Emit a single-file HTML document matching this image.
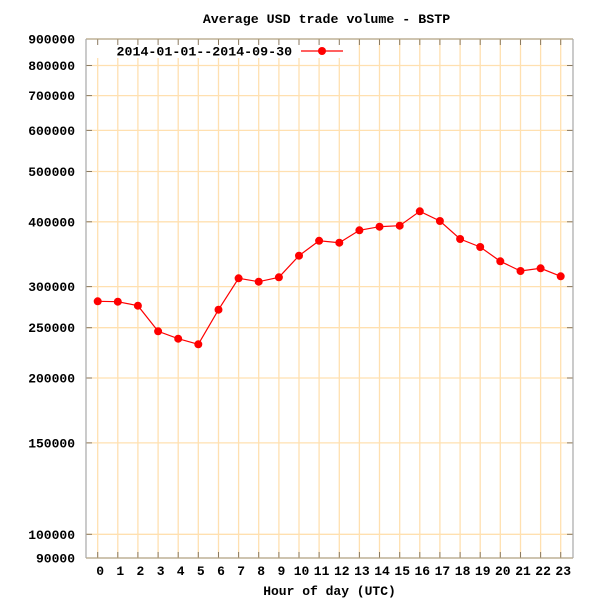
<!DOCTYPE html>
<html><head><meta charset="utf-8"><style>
html,body{margin:0;padding:0;background:#fff;}
svg{display:block;}
text{font-family:"Liberation Mono",monospace;font-weight:bold;fill:#000;}
</style></head><body>
<svg width="600" height="600" viewBox="0 0 600 600" xmlns="http://www.w3.org/2000/svg">
<rect width="600" height="600" fill="#fff"/>
<!-- vertical grid -->
<g stroke="#ffe0b0" stroke-width="1.3">
<line x1="97.7" y1="39" x2="97.7" y2="558"/>
<line x1="117.8" y1="39" x2="117.8" y2="558"/>
<line x1="137.9" y1="39" x2="137.9" y2="558"/>
<line x1="158.1" y1="39" x2="158.1" y2="558"/>
<line x1="178.2" y1="39" x2="178.2" y2="558"/>
<line x1="198.3" y1="39" x2="198.3" y2="558"/>
<line x1="218.5" y1="39" x2="218.5" y2="558"/>
<line x1="238.6" y1="39" x2="238.6" y2="558"/>
<line x1="258.7" y1="39" x2="258.7" y2="558"/>
<line x1="278.9" y1="39" x2="278.9" y2="558"/>
<line x1="299.0" y1="39" x2="299.0" y2="558"/>
<line x1="319.1" y1="39" x2="319.1" y2="558"/>
<line x1="339.3" y1="39" x2="339.3" y2="558"/>
<line x1="359.4" y1="39" x2="359.4" y2="558"/>
<line x1="379.5" y1="39" x2="379.5" y2="558"/>
<line x1="399.7" y1="39" x2="399.7" y2="558"/>
<line x1="419.8" y1="39" x2="419.8" y2="558"/>
<line x1="439.9" y1="39" x2="439.9" y2="558"/>
<line x1="460.1" y1="39" x2="460.1" y2="558"/>
<line x1="480.2" y1="39" x2="480.2" y2="558"/>
<line x1="500.3" y1="39" x2="500.3" y2="558"/>
<line x1="520.5" y1="39" x2="520.5" y2="558"/>
<line x1="540.6" y1="39" x2="540.6" y2="558"/>
<line x1="560.7" y1="39" x2="560.7" y2="558"/>
<!-- horizontal grid -->
<line x1="86" y1="65.5" x2="573" y2="65.5"/>
<line x1="86" y1="95.6" x2="573" y2="95.6"/>
<line x1="86" y1="130.4" x2="573" y2="130.4"/>
<line x1="86" y1="171.5" x2="573" y2="171.5"/>
<line x1="86" y1="221.8" x2="573" y2="221.8"/>
<line x1="86" y1="286.6" x2="573" y2="286.6"/>
<line x1="86" y1="327.7" x2="573" y2="327.7"/>
<line x1="86" y1="378.0" x2="573" y2="378.0"/>
<line x1="86" y1="442.9" x2="573" y2="442.9"/>
<line x1="86" y1="534.3" x2="573" y2="534.3"/>
</g>
<!-- legend box (opaque) -->
<rect x="87" y="40" width="262" height="18" fill="#fff"/>
<!-- ticks -->
<g stroke="#8b7a60" stroke-width="1">
<line x1="97.7" y1="558" x2="97.7" y2="552"/><line x1="97.7" y1="39" x2="97.7" y2="45"/>
<line x1="117.8" y1="558" x2="117.8" y2="552"/><line x1="117.8" y1="39" x2="117.8" y2="45"/>
<line x1="137.9" y1="558" x2="137.9" y2="552"/><line x1="137.9" y1="39" x2="137.9" y2="45"/>
<line x1="158.1" y1="558" x2="158.1" y2="552"/><line x1="158.1" y1="39" x2="158.1" y2="45"/>
<line x1="178.2" y1="558" x2="178.2" y2="552"/><line x1="178.2" y1="39" x2="178.2" y2="45"/>
<line x1="198.3" y1="558" x2="198.3" y2="552"/><line x1="198.3" y1="39" x2="198.3" y2="45"/>
<line x1="218.5" y1="558" x2="218.5" y2="552"/><line x1="218.5" y1="39" x2="218.5" y2="45"/>
<line x1="238.6" y1="558" x2="238.6" y2="552"/><line x1="238.6" y1="39" x2="238.6" y2="45"/>
<line x1="258.7" y1="558" x2="258.7" y2="552"/><line x1="258.7" y1="39" x2="258.7" y2="45"/>
<line x1="278.9" y1="558" x2="278.9" y2="552"/><line x1="278.9" y1="39" x2="278.9" y2="45"/>
<line x1="299.0" y1="558" x2="299.0" y2="552"/><line x1="299.0" y1="39" x2="299.0" y2="45"/>
<line x1="319.1" y1="558" x2="319.1" y2="552"/><line x1="319.1" y1="39" x2="319.1" y2="45"/>
<line x1="339.3" y1="558" x2="339.3" y2="552"/><line x1="339.3" y1="39" x2="339.3" y2="45"/>
<line x1="359.4" y1="558" x2="359.4" y2="552"/><line x1="359.4" y1="39" x2="359.4" y2="45"/>
<line x1="379.5" y1="558" x2="379.5" y2="552"/><line x1="379.5" y1="39" x2="379.5" y2="45"/>
<line x1="399.7" y1="558" x2="399.7" y2="552"/><line x1="399.7" y1="39" x2="399.7" y2="45"/>
<line x1="419.8" y1="558" x2="419.8" y2="552"/><line x1="419.8" y1="39" x2="419.8" y2="45"/>
<line x1="439.9" y1="558" x2="439.9" y2="552"/><line x1="439.9" y1="39" x2="439.9" y2="45"/>
<line x1="460.1" y1="558" x2="460.1" y2="552"/><line x1="460.1" y1="39" x2="460.1" y2="45"/>
<line x1="480.2" y1="558" x2="480.2" y2="552"/><line x1="480.2" y1="39" x2="480.2" y2="45"/>
<line x1="500.3" y1="558" x2="500.3" y2="552"/><line x1="500.3" y1="39" x2="500.3" y2="45"/>
<line x1="520.5" y1="558" x2="520.5" y2="552"/><line x1="520.5" y1="39" x2="520.5" y2="45"/>
<line x1="540.6" y1="558" x2="540.6" y2="552"/><line x1="540.6" y1="39" x2="540.6" y2="45"/>
<line x1="560.7" y1="558" x2="560.7" y2="552"/><line x1="560.7" y1="39" x2="560.7" y2="45"/>
<line x1="86" y1="65.5" x2="92" y2="65.5"/><line x1="573" y1="65.5" x2="567" y2="65.5"/>
<line x1="86" y1="95.6" x2="92" y2="95.6"/><line x1="573" y1="95.6" x2="567" y2="95.6"/>
<line x1="86" y1="130.4" x2="92" y2="130.4"/><line x1="573" y1="130.4" x2="567" y2="130.4"/>
<line x1="86" y1="171.5" x2="92" y2="171.5"/><line x1="573" y1="171.5" x2="567" y2="171.5"/>
<line x1="86" y1="221.8" x2="92" y2="221.8"/><line x1="573" y1="221.8" x2="567" y2="221.8"/>
<line x1="86" y1="286.6" x2="92" y2="286.6"/><line x1="573" y1="286.6" x2="567" y2="286.6"/>
<line x1="86" y1="327.7" x2="92" y2="327.7"/><line x1="573" y1="327.7" x2="567" y2="327.7"/>
<line x1="86" y1="378.0" x2="92" y2="378.0"/><line x1="573" y1="378.0" x2="567" y2="378.0"/>
<line x1="86" y1="442.9" x2="92" y2="442.9"/><line x1="573" y1="442.9" x2="567" y2="442.9"/>
<line x1="86" y1="534.3" x2="92" y2="534.3"/><line x1="573" y1="534.3" x2="567" y2="534.3"/>
</g>
<!-- border -->
<line x1="86" y1="39" x2="573" y2="39" stroke="#b0a080" stroke-width="1.2"/>
<line x1="86" y1="558" x2="573" y2="558" stroke="#b0a080" stroke-width="1.2"/>
<line x1="86" y1="39" x2="86" y2="558" stroke="#a8a8a8" stroke-width="1.2"/>
<line x1="573" y1="39" x2="573" y2="558" stroke="#a8a8a8" stroke-width="1.2"/>
<!-- series -->
<polyline fill="none" stroke="#ff0000" stroke-width="1.2" points="97.7,301.3 117.8,301.7 137.9,305.7 158.1,331.3 178.2,338.7 198.3,344.3 218.5,309.7 238.6,278.3 258.7,281.7 278.9,277.3 299.0,255.7 319.1,240.8 339.3,242.7 359.4,230.3 379.5,226.7 399.7,225.7 419.8,211.3 439.9,221 460.1,239 480.2,247 500.3,261.3 520.5,271 540.6,268.3 560.7,276.3"/>
<g fill="#ff0000">
<circle cx="97.7" cy="301.3" r="4"/><circle cx="117.8" cy="301.7" r="4"/><circle cx="137.9" cy="305.7" r="4"/><circle cx="158.1" cy="331.3" r="4"/><circle cx="178.2" cy="338.7" r="4"/><circle cx="198.3" cy="344.3" r="4"/><circle cx="218.5" cy="309.7" r="4"/><circle cx="238.6" cy="278.3" r="4"/><circle cx="258.7" cy="281.7" r="4"/><circle cx="278.9" cy="277.3" r="4"/><circle cx="299.0" cy="255.7" r="4"/><circle cx="319.1" cy="240.8" r="4"/><circle cx="339.3" cy="242.7" r="4"/><circle cx="359.4" cy="230.3" r="4"/><circle cx="379.5" cy="226.7" r="4"/><circle cx="399.7" cy="225.7" r="4"/><circle cx="419.8" cy="211.3" r="4"/><circle cx="439.9" cy="221" r="4"/><circle cx="460.1" cy="239" r="4"/><circle cx="480.2" cy="247" r="4"/><circle cx="500.3" cy="261.3" r="4"/><circle cx="520.5" cy="271" r="4"/><circle cx="540.6" cy="268.3" r="4"/><circle cx="560.7" cy="276.3" r="4"/>
</g>
<!-- legend -->
<text x="116.5" y="55.5" font-size="13.3">2014-01-01--2014-09-30</text>
<line x1="301" y1="51" x2="343" y2="51" stroke="#ff0000" stroke-width="1.2"/>
<circle cx="322" cy="51" r="4" fill="#ff0000"/>
<!-- title -->
<text x="326.5" y="23" font-size="13.3" text-anchor="middle">Average USD trade volume - BSTP</text>
<!-- y labels -->
<g font-size="13" text-anchor="end">
<text x="75" y="43.5">900000</text>
<text x="75" y="70">800000</text>
<text x="75" y="100">700000</text>
<text x="75" y="135">600000</text>
<text x="75" y="176">500000</text>
<text x="75" y="226.3">400000</text>
<text x="75" y="291">300000</text>
<text x="75" y="332">250000</text>
<text x="75" y="382.5">200000</text>
<text x="75" y="447.4">150000</text>
<text x="75" y="538.8">100000</text>
<text x="75" y="562.5">90000</text>
</g>
<!-- x labels -->
<g font-size="13" text-anchor="middle">
<text x="100.2" y="575">0</text><text x="120.3" y="575">1</text><text x="140.4" y="575">2</text><text x="160.6" y="575">3</text><text x="180.7" y="575">4</text><text x="200.8" y="575">5</text><text x="221" y="575">6</text><text x="241.1" y="575">7</text><text x="261.2" y="575">8</text><text x="281.4" y="575">9</text><text x="301.5" y="575">10</text><text x="321.6" y="575">11</text><text x="341.8" y="575">12</text><text x="361.9" y="575">13</text><text x="382" y="575">14</text><text x="402.2" y="575">15</text><text x="422.3" y="575">16</text><text x="442.4" y="575">17</text><text x="462.6" y="575">18</text><text x="482.7" y="575">19</text><text x="502.8" y="575">20</text><text x="523" y="575">21</text><text x="543.1" y="575">22</text><text x="563.2" y="575">23</text>
</g>
<text x="329.5" y="595" font-size="13" text-anchor="middle">Hour of day (UTC)</text>
</svg>
</body></html>
